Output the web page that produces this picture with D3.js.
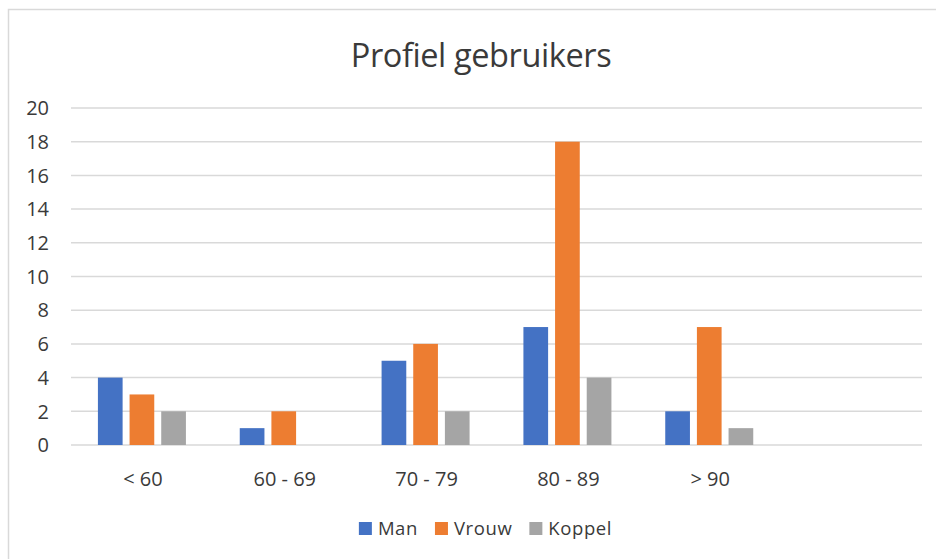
<!DOCTYPE html>
<html>
<head>
<meta charset="utf-8">
<script src="https://cdn.jsdelivr.net/npm/d3@7"></script>
<style>
  body { margin: 0; background: #fff; }
  text { font-family: "Open Sans", "Noto Sans", sans-serif; fill: #3a3a3a; }
</style>
</head>
<body>
<div id="chart"></div>
<script>
// chart data
const categories = ['< 60', '60 - 69', '70 - 79', '80 - 89', '> 90', ''];
const seriesNames = ['Man', 'Vrouw', 'Koppel'];
const man = [4, 1, 5, 7, 2, null];
const vrouw = [3, 2, 6, 18, 7, null];
const koppel = [2, 0, 2, 4, 1, null];
const yTicks = [0, 2, 4, 6, 8, 10, 12, 14, 16, 18, 20];
const colors = ['#4472C4', '#ED7D31', '#A5A5A5'];

const width = 936, height = 559;
const values = [man, vrouw, koppel];

const svg = d3.select('#chart').append('svg')
    .attr('width', width)
    .attr('height', height);

// chart frame (runs off the page at right and bottom)
svg.append('rect')
    .attr('x', 8.5).attr('y', 9.5)
    .attr('width', 1000).attr('height', 600)
    .attr('fill', '#fff')
    .attr('stroke', '#d9d9d9')
    .attr('stroke-width', 1.5);

const x0 = d3.scaleBand().domain(categories).range([71, 922]);
const x1 = d3.scaleBand().domain(seriesNames).range([-44, 44]).paddingInner(0.22);
const y = d3.scaleLinear().domain([0, 20]).range([445, 108]);

// gridlines
svg.append('g')
    .selectAll('line')
    .data(yTicks)
    .join('line')
    .attr('x1', 71).attr('x2', 922)
    .attr('y1', d => y(d)).attr('y2', d => y(d))
    .attr('stroke', '#d9d9d9')
    .attr('stroke-width', 1.5);

// y tick labels
svg.append('g')
    .selectAll('text')
    .data(yTicks)
    .join('text')
    .attr('x', 49)
    .attr('y', d => y(d))
    .attr('dy', '0.36em')
    .attr('text-anchor', 'end')
    .attr('font-size', '20px')
    .text(d => d);

// bars
const groups = svg.append('g')
    .selectAll('g')
    .data(seriesNames)
    .join('g')
    .attr('fill', (d, i) => colors[i]);

groups.selectAll('rect')
    .data((s, i) => categories.map((c, j) => ({cat: c, s: s, v: values[i][j]})).filter(d => d.v))
    .join('rect')
    .attr('x', d => x0(d.cat) + x0.bandwidth() / 2 + x1(d.s))
    .attr('width', x1.bandwidth())
    .attr('y', d => y(d.v))
    .attr('height', d => y(0) - y(d.v));

// x category labels
svg.append('g')
    .selectAll('text')
    .data(categories)
    .join('text')
    .attr('x', d => x0(d) + x0.bandwidth() / 2 + 1)
    .attr('y', 486)
    .attr('text-anchor', 'middle')
    .attr('font-size', '20px')
    .text(d => d);

// title
svg.append('text')
    .attr('x', 481)
    .attr('y', 67)
    .attr('text-anchor', 'middle')
    .attr('font-size', '32.5px')
    .attr('letter-spacing', '-0.4px')
    .text('Profiel gebruikers');

// legend
const legend = svg.append('g');
let lx = 0;
seriesNames.forEach((s, i) => {
    const item = legend.append('g').attr('transform', `translate(${lx},0)`);
    item.append('rect')
        .attr('x', 0).attr('y', -13)
        .attr('width', 13).attr('height', 13)
        .attr('fill', colors[i]);
    const t = item.append('text')
        .attr('x', 19).attr('y', 0)
        .attr('font-size', '18.5px')
        .attr('letter-spacing', '0.6px')
        .text(s);
    lx += 19 + t.node().getComputedTextLength() + 17;
});
const legendW = lx - 17;
legend.attr('transform', `translate(${485.5 - legendW / 2},535)`);
</script>
</body>
</html>
